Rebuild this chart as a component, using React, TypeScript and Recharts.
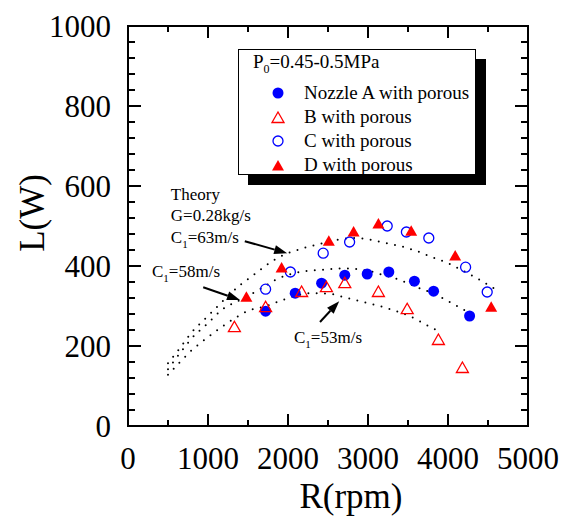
import {
  ComposedChart,
  Line,
  Scatter,
  XAxis,
  YAxis,
  ReferenceArea,
  ReferenceLine,
  ReferenceDot,
} from "recharts"

const FONT = '"Liberation Serif", "Times New Roman", serif'
const BLUE = "#0000ff"
const RED = "#ff0000"

// plot frame (px)
const TOP = 26
const BOTTOM = 426
const LEFT = 128
const RIGHT = 528

const xTicks = [0, 500, 1000, 1500, 2000, 2500, 3000, 3500, 4000, 4500, 5000]
const yTicks = [
  0, 40, 80, 120, 160, 200, 240, 280, 320, 360, 400, 440, 480, 520, 560, 600,
  640, 680, 720, 760, 800, 840, 880, 920, 960, 1000,
]

// measurements
const nozzleA_R = [1720, 2090, 2420, 2710, 2990, 3260, 3580, 3820, 4270]
const nozzleA_L = [287, 332, 357, 377, 380, 385, 362, 337, 275]
const nozzleB_R = [1330, 1720, 2170, 2480, 2710, 3130, 3490, 3880, 4180]
const nozzleB_L = [247, 297, 335, 347, 357, 335, 292, 215, 145]
const nozzleC_R = [1720, 2030, 2440, 2770, 3240, 3480, 3760, 4220, 4490]
const nozzleC_L = [342, 385, 432, 460, 500, 485, 470, 397, 335]
const nozzleD_R = [1480, 1920, 2510, 2820, 3130, 3540, 4090, 4540]
const nozzleD_L = [322, 395, 462, 485, 505, 487, 425, 297]

// theory curves
const theory63_R = [500, 650, 800, 1000, 1200, 1400, 1600, 1800, 2000, 2200, 2500, 2800, 3000, 3200, 3400, 3600, 3800, 4000, 4200, 4400, 4650]
const theory63_L = [157, 195, 235, 275, 315, 352, 382, 412, 432, 445, 460, 470, 467, 458, 450, 438, 422, 407, 387, 365, 335]
const theory58_R = [500, 650, 800, 1000, 1170, 1400, 1650, 1850, 2150, 2450, 2700, 3000, 3200, 3400, 3600, 3850, 4050, 4250]
const theory58_L = [142, 182, 220, 257, 290, 315, 342, 366, 385, 391, 394, 388, 377, 365, 348, 328, 307, 285]
const theory53_R = [500, 650, 800, 1000, 1300, 1500, 1730, 1930, 2300, 2550, 2700, 2900, 3200, 3600, 3800, 3920]
const theory53_L = [128, 160, 190, 222, 265, 288, 300, 315, 332, 330, 322, 312, 297, 267, 245, 235]

const legendLabels = [
  "Nozzle A with porous",
  "B with porous",
  "C with porous",
  "D with porous",
]

const pts = (xs: number[], ys: number[]) => xs.map((x, i) => ({ x, y: ys[i] }))

const tri = (cx: number, cy: number) =>
  `M${cx},${cy - 6} L${cx + 6},${cy + 4.5} L${cx - 6},${cy + 4.5} Z`

const FilledCircle = (p: any) => <circle cx={p.cx} cy={p.cy} r={5.5} fill={BLUE} />
const OpenCircle = (p: any) => (
  <circle cx={p.cx} cy={p.cy} r={5} fill="none" stroke={BLUE} strokeWidth={1.3} />
)
const OpenTri = (p: any) => (
  <path d={tri(p.cx, p.cy)} fill="none" stroke={RED} strokeWidth={1.3} />
)
const FilledTri = (p: any) => <path d={tri(p.cx, p.cy)} fill={RED} />

const legendIcons = [
  <FilledCircle cx={7} cy={7} />,
  <OpenTri cx={7} cy={8} />,
  <OpenCircle cx={7} cy={7} />,
  <FilledTri cx={7} cy={8} />,
]

function XTick(props: any) {
  const { x, payload } = props
  const v = payload.value
  const major = v % 1000 === 0
  const len = major ? 12 : 6
  const edge = v === 0 || v === 5000
  return (
    <g>
      {!edge && <line x1={x} y1={BOTTOM} x2={x} y2={BOTTOM - len} stroke="#000" strokeWidth={2} />}
      {!edge && <line x1={x} y1={TOP} x2={x} y2={TOP + len} stroke="#000" strokeWidth={2} />}
      {major && (
        <text x={x} y={469} textAnchor="middle" fontSize={31} fontFamily={FONT} fill="#000">
          {v}
        </text>
      )}
    </g>
  )
}

function YTick(props: any) {
  const { y, payload } = props
  const v = payload.value
  const major = v % 200 === 0
  const len = major ? 13 : 7
  const edge = v === 0 || v === 1000
  return (
    <g>
      {!edge && <line x1={LEFT} y1={y} x2={LEFT + len} y2={y} stroke="#000" strokeWidth={2} />}
      {!edge && <line x1={RIGHT} y1={y} x2={RIGHT - len} y2={y} stroke="#000" strokeWidth={2} />}
      {major && (
        <text x={111} y={y + 11} textAnchor="end" fontSize={31} fontFamily={FONT} fill="#000">
          {v}
        </text>
      )}
    </g>
  )
}

function Arrow(props: any) {
  const { x1, y1, x2, y2 } = props
  const a = Math.atan2(y2 - y1, x2 - x1)
  const bx = x2 - 13 * Math.cos(a)
  const by = y2 - 13 * Math.sin(a)
  const px = -Math.sin(a) * 4.5
  const py = Math.cos(a) * 4.5
  return (
    <g>
      <line x1={x1} y1={y1} x2={bx} y2={by} stroke="#000" strokeWidth={2} />
      <path d={`M${x2},${y2} L${bx + px},${by + py} L${bx - px},${by - py} Z`} fill="#000" />
    </g>
  )
}

const note = (text: string) => (p: any) => (
  <text x={p.cx} y={p.cy} fontSize={17} fontFamily={FONT} fill="#000">
    {text}
  </text>
)

const c1note = (rest: string) => (p: any) => (
  <text x={p.cx} y={p.cy} fontSize={17} fontFamily={FONT} fill="#000">
    C
    <tspan dy={5} fontSize={11}>1</tspan>
    <tspan dy={-5}>{rest}</tspan>
  </text>
)

function LegendBox() {
  return (
    <div
      style={{
        position: "absolute",
        left: 238,
        top: 49,
        width: 238,
        height: 126,
        boxSizing: "border-box",
        border: "1px solid #000",
        background: "#fff",
        boxShadow: "10px 10px 0 #000",
        fontFamily: FONT,
        fontSize: 19,
        color: "#000",
      }}
    >
      <div style={{ position: "absolute", left: 14, top: 1, whiteSpace: "nowrap", lineHeight: "22px" }}>
        P<span style={{ fontSize: 12, position: "relative", top: 5 }}>0</span>=0.45-0.5MPa
      </div>
      {legendLabels.map((label, i) => (
        <div
          key={label}
          style={{
            position: "absolute",
            left: 0,
            top: 33 + i * 24,
            height: 20,
            display: "flex",
            alignItems: "center",
          }}
        >
          <svg width={14} height={14} style={{ marginLeft: 32 }}>
            {legendIcons[i]}
          </svg>
          <span style={{ marginLeft: 19, whiteSpace: "nowrap", lineHeight: "20px" }}>{label}</span>
        </div>
      ))}
    </div>
  )
}

export default function App() {
  return (
    <div style={{ position: "absolute", left: 0, top: 0, width: 574, height: 524, background: "#fff" }}>
      <ComposedChart width={574} height={524} margin={{ top: TOP, right: 46, bottom: 0, left: 0 }}>
        <XAxis
          type="number"
          dataKey="x"
          domain={[0, 5000]}
          ticks={xTicks}
          interval={0}
          height={98}
          axisLine={false}
          tickLine={false}
          tick={<XTick />}
          allowDataOverflow
          label={{
            content: () => (
              <text x={351} y={508} textAnchor="middle" fontSize={35} fontFamily={FONT} fill="#000">
                R(rpm)
              </text>
            ),
          }}
        />
        <YAxis
          type="number"
          domain={[0, 1000]}
          ticks={yTicks}
          interval={0}
          width={LEFT}
          axisLine={false}
          tickLine={false}
          tick={<YTick />}
          allowDataOverflow
          label={{
            content: () => (
              <text
                x={32}
                y={213}
                transform="rotate(-90, 32, 213)"
                textAnchor="middle"
                dominantBaseline="central"
                fontSize={35}
                fontFamily={FONT}
                fill="#000"
              >
                L(W)
              </text>
            ),
          }}
        />
        <ReferenceArea x1={0} x2={5000} y1={0} y2={1000} fill="none" fillOpacity={0} stroke="#000" strokeWidth={2} />

        <Line data={pts(theory63_R, theory63_L)} dataKey="y" type="monotone" stroke="#000" strokeWidth={2}
          strokeDasharray="0 8.3" strokeLinecap="round" dot={false} activeDot={false} isAnimationActive={false} />
        <Line data={pts(theory58_R, theory58_L)} dataKey="y" type="monotone" stroke="#000" strokeWidth={2}
          strokeDasharray="0 8.3" strokeLinecap="round" dot={false} activeDot={false} isAnimationActive={false} />
        <Line data={pts(theory53_R, theory53_L)} dataKey="y" type="monotone" stroke="#000" strokeWidth={2}
          strokeDasharray="0 8.3" strokeLinecap="round" dot={false} activeDot={false} isAnimationActive={false} />

        <Scatter data={pts(nozzleA_R, nozzleA_L)} dataKey="y" shape={FilledCircle} isAnimationActive={false} />
        <Scatter data={pts(nozzleB_R, nozzleB_L)} dataKey="y" shape={OpenTri} isAnimationActive={false} />
        <Scatter data={pts(nozzleC_R, nozzleC_L)} dataKey="y" shape={OpenCircle} isAnimationActive={false} />
        <Scatter data={pts(nozzleD_R, nozzleD_L)} dataKey="y" shape={FilledTri} isAnimationActive={false} />

        <ReferenceLine segment={[{ x: 1460, y: 462 }, { x: 1990, y: 432 }]} shape={Arrow} />
        <ReferenceLine segment={[{ x: 940, y: 347 }, { x: 1400, y: 315 }]} shape={Arrow} />
        <ReferenceLine segment={[{ x: 2400, y: 260 }, { x: 2640, y: 312 }]} shape={Arrow} />

        <ReferenceDot x={535} y={565} shape={note("Theory")} />
        <ReferenceDot x={535} y={512} shape={note("G=0.28kg/s")} />
        <ReferenceDot x={535} y={457} shape={c1note("=63m/s")} />
        <ReferenceDot x={300} y={372} shape={c1note("=58m/s")} />
        <ReferenceDot x={2075} y={207} shape={c1note("=53m/s")} />
      </ComposedChart>
      <LegendBox />
    </div>
  )
}
